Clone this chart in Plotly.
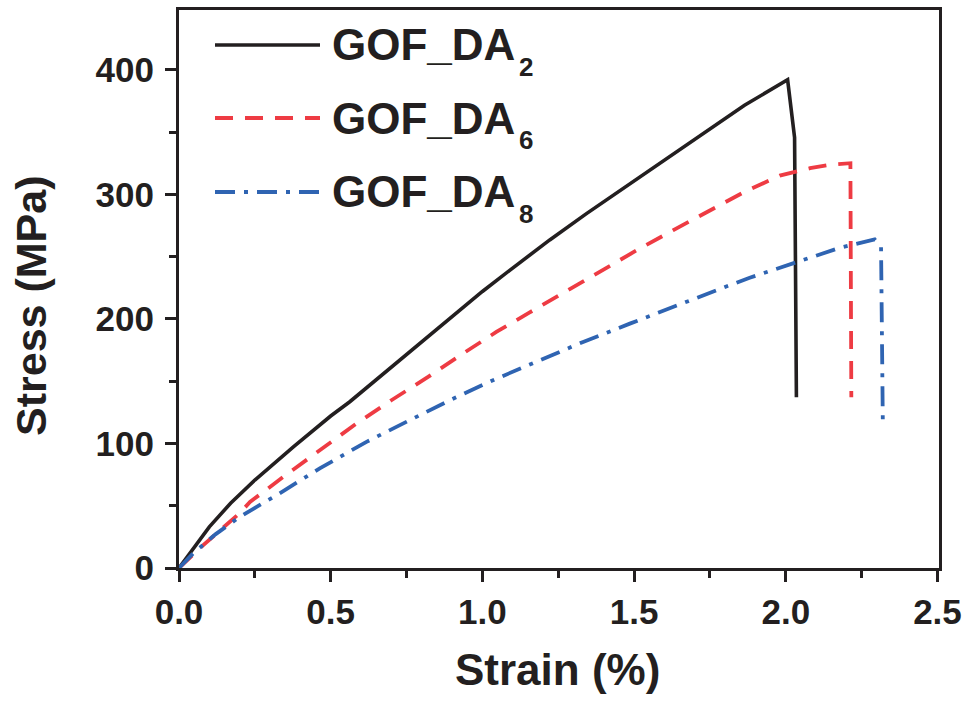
import plotly.graph_objects as go

# Tensile curves: strain (%) vs stress (MPa)
strain_da2 = [0, 0.05, 0.10, 0.17, 0.25, 0.377, 0.5, 0.563, 0.717, 0.80, 0.893, 1.0,
              1.09, 1.222, 1.343, 1.486, 1.65, 1.716, 1.864, 2.006, 2.029, 2.035]
stress_da2 = [0, 17, 33, 52, 70.6, 97.3, 122, 133.5, 164.5, 181.5, 200.5, 222.0,
              239.0, 263.4, 284.5, 308.5, 335.2, 346.5, 371.5, 392, 345.6, 137]

strain_da6 = [0, 0.08, 0.20, 0.234, 0.344, 0.464, 0.585, 0.70, 0.821, 0.936, 1.046,
              1.156, 1.271, 1.387, 1.508, 1.628, 1.749, 1.864, 1.98, 2.08, 2.154,
              2.213, 2.216]
stress_da6 = [0, 18.4, 44, 53, 73.2, 94.3, 116.0, 134.7, 153.4, 172.2, 189.5,
              205.2, 221.6, 238.0, 255.0, 271.1, 286.8, 302.0, 315, 321, 324,
              325, 137]

strain_da8 = [0, 0.047, 0.12, 0.194, 0.245, 0.322, 0.464, 0.618, 0.761, 0.893, 1.035,
              1.189, 1.332, 1.486, 1.639, 1.733, 1.804, 1.881, 2.029, 2.177, 2.293,
              2.314, 2.32]
stress_da8 = [0, 11.8, 27, 40, 47.5, 58.5, 80.0, 101.3, 118.7, 134.7, 150.8,
              166.8, 181.5, 196.2, 210.9, 219.5, 226.0, 233.0, 245, 257.0, 263.8,
              257.7, 113]

series_names = ["GOF_DA", "GOF_DA", "GOF_DA"]
series_subs = ["2", "6", "8"]
x_ticks = [0.0, 0.5, 1.0, 1.5, 2.0, 2.5]
x_tick_text = ["0.0", "0.5", "1.0", "1.5", "2.0", "2.5"]
y_ticks = [0, 100, 200, 300, 400]

INK = "#231F20"
RED = "#EE3B43"
BLUE = "#2F64B2"
FONT = "Arial, Liberation Sans, sans-serif"

styles = [
    dict(color=INK, width=3.6, dash="solid"),
    dict(color=RED, width=3.8, dash="18px,12px"),
    dict(color=BLUE, width=3.8, dash="20px,9px,4px,9px"),
]

fig = go.Figure()
for xs, ys, st in zip([strain_da2, strain_da6, strain_da8],
                      [stress_da2, stress_da6, stress_da8], styles):
    fig.add_trace(go.Scatter(x=xs, y=ys, mode="lines", line=st, showlegend=False,
                             hoverinfo="skip"))

# plot-area geometry in pixels
W, H = 967, 702
L, R, T, B = 179, 939, 10, 568


def px(xp):
    return (xp - L) / (R - L)


def py(yp):
    return (B - yp) / (B - T)


# hand-drawn legend: sample line + label with subscript
rows = [45, 118, 192]
for row_y, st, name, sub in zip(rows, styles, series_names, series_subs):
    fig.add_shape(type="line", xref="paper", yref="paper",
                  x0=px(215), x1=px(320), y0=py(row_y), y1=py(row_y),
                  line=dict(color=st["color"], width=st["width"], dash=st["dash"]))
    fig.add_annotation(text=name, xref="paper", yref="paper", x=px(330), y=py(row_y),
                       xanchor="left", yanchor="middle", showarrow=False,
                       font=dict(family=FONT, size=44, color=INK, weight="bold"))
    fig.add_annotation(text=sub, xref="paper", yref="paper", x=px(517), y=py(row_y + 22),
                       xanchor="left", yanchor="middle", showarrow=False,
                       font=dict(family=FONT, size=26, color=INK, weight="bold"))

# axis titles
fig.add_annotation(text="Strain (%)", xref="paper", yref="paper", x=px(557), y=py(669),
                   xanchor="center", yanchor="middle", showarrow=False,
                   font=dict(family=FONT, size=44, color=INK, weight="bold"))
fig.add_annotation(text="Stress (MPa)", xref="paper", yref="paper", x=px(31), y=py(306),
                   xanchor="center", yanchor="middle", showarrow=False, textangle=-90,
                   font=dict(family=FONT, size=43, color=INK, weight="bold"))

axis_common = dict(
    showline=True, linecolor=INK, linewidth=3, mirror=True,
    showgrid=False, zeroline=False, automargin=False,
    ticks="outside", ticklen=11, tickwidth=2.5, tickcolor=INK,
    tickfont=dict(family=FONT, size=35, color=INK, weight="bold"),
)

fig.update_xaxes(range=[0, 2.505], tickvals=x_ticks, ticktext=x_tick_text,
                 minor=dict(dtick=0.25, ticks="outside", ticklen=7, tickwidth=2.5,
                            tickcolor=INK),
                 ticklabelstandoff=0, **axis_common)
fig.update_yaxes(range=[0, 448], tickvals=y_ticks,
                 minor=dict(dtick=50, ticks="outside", ticklen=7, tickwidth=2.5,
                            tickcolor=INK),
                 ticklabelstandoff=4, **axis_common)

fig.update_layout(
    width=W, height=H,
    margin=dict(l=L, r=W - R, t=T, b=H - B),
    paper_bgcolor="white", plot_bgcolor="white",
)

fig.write_html("out.html")
